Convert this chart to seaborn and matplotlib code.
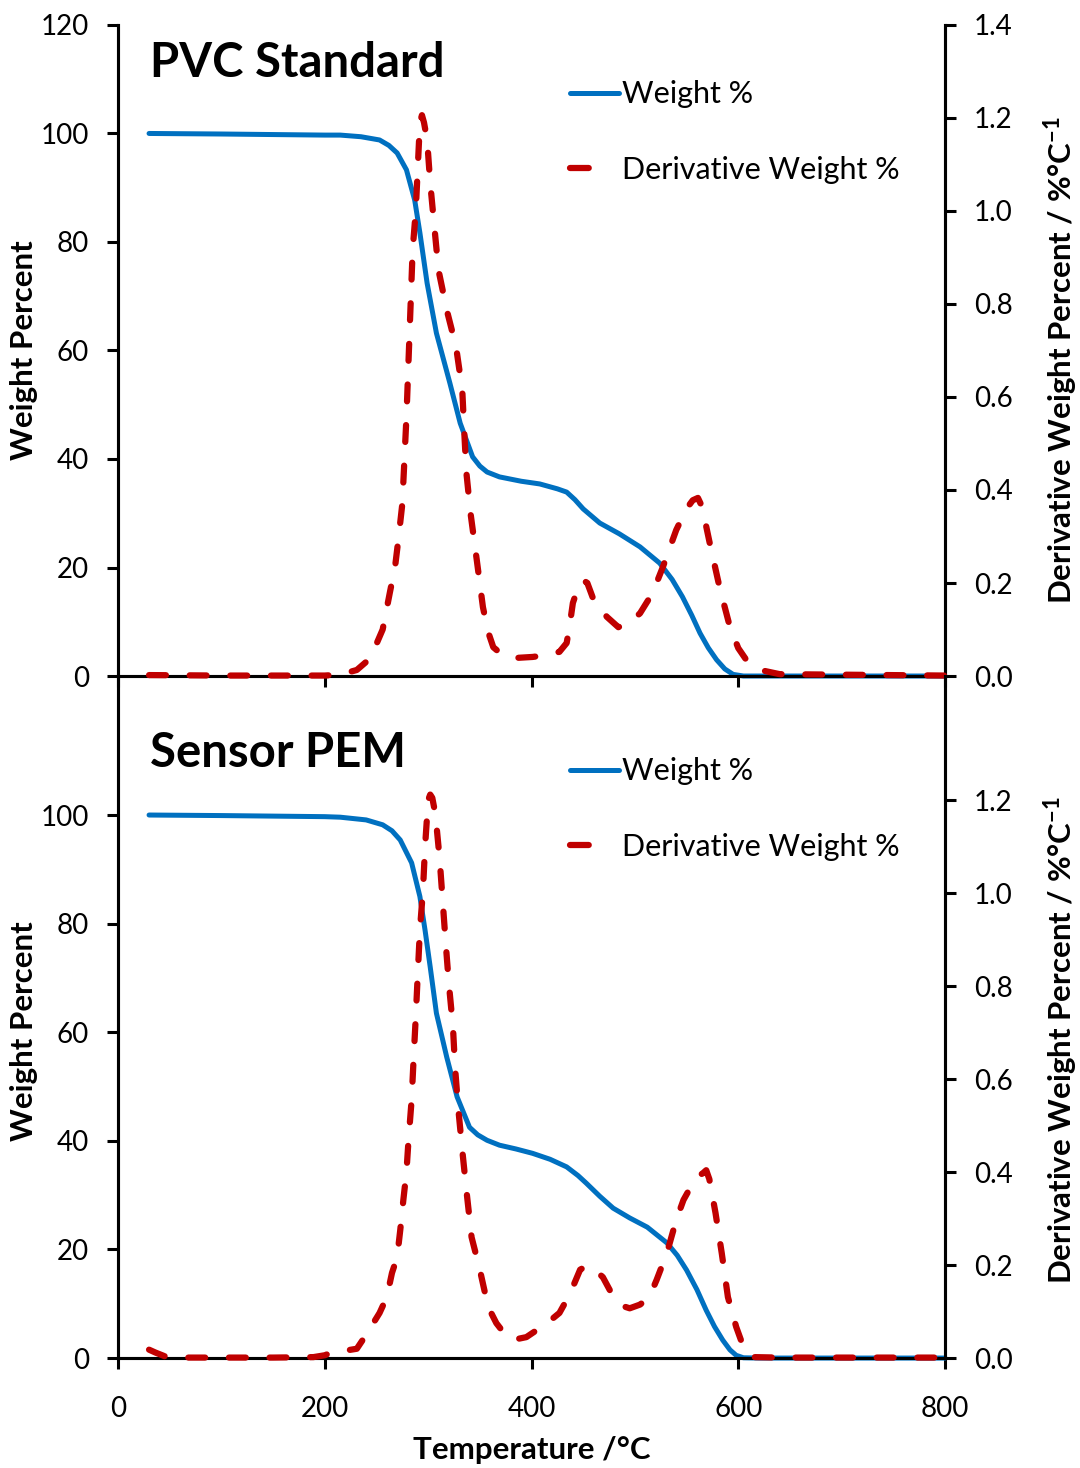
import numpy as np
import pandas as pd
import seaborn as sns
import matplotlib
matplotlib.use("Agg")
import matplotlib.pyplot as plt
from matplotlib.lines import Line2D

sns.set_theme(style="white")
plt.rcParams['font.family'] = ['Lato', 'DejaVu Sans']
plt.rcParams['mathtext.fontset'] = 'custom'
plt.rcParams['mathtext.rm'] = 'Lato'
plt.rcParams['mathtext.bf'] = 'Lato:bold'
plt.rcParams['text.color'] = 'black'
plt.rcParams['axes.labelcolor'] = 'black'
plt.rcParams['xtick.color'] = 'black'
plt.rcParams['ytick.color'] = 'black'
plt.rcParams['legend.labelcolor'] = 'black'

# ---------------- data ----------------
# PVC Standard - weight %
pvc_w_T = [30, 100, 150, 200, 215, 235, 253, 262, 270, 279, 287, 292, 299, 308, 321, 331, 343, 350, 357, 369,
           390, 408, 425, 434, 442, 450, 466, 485, 505, 524, 536, 546, 555, 563, 571, 579, 587, 595, 605, 620, 700, 800]
pvc_w = [100, 99.9, 99.8, 99.7, 99.7, 99.4, 98.8, 97.8, 96.4, 93.3, 87.7, 81.7, 72.4, 63.2, 54, 46.6, 40.4, 38.7, 37.6, 36.7,
         35.9, 35.4, 34.5, 33.9, 32.5, 30.8, 28.2, 26.2, 23.8, 20.8, 17.8, 14.6, 11.2, 7.9, 5.2, 3, 1.3, 0.3, 0, 0, 0, 0]
# PVC Standard - derivative weight %
pvc_d_T = [30, 100, 200, 215, 231, 244, 256, 263, 268, 271, 275, 279, 282, 285, 288, 290, 292, 294, 296, 299, 302, 306,
           310, 318, 327, 333, 335, 337, 341, 344, 347, 353, 358, 363, 372, 386, 401, 415, 427, 434, 437, 440, 445, 450,
           454, 459, 466, 473, 484, 495, 505, 517, 527, 540, 550, 556, 561, 565, 572, 582, 592, 600, 608, 621, 640, 800]
pvc_d = [0.002, 0.001, 0.001, 0.003, 0.013, 0.038, 0.10, 0.18, 0.235, 0.29, 0.37, 0.557, 0.737, 0.916, 1.0, 1.095, 1.19,
         1.206, 1.19, 1.153, 1.06, 0.966, 0.873, 0.787, 0.708, 0.615, 0.522, 0.437, 0.35, 0.30, 0.25, 0.148, 0.095, 0.062,
         0.045, 0.039, 0.041, 0.045, 0.052, 0.071, 0.11, 0.157, 0.19, 0.206, 0.20, 0.17, 0.145, 0.127, 0.105, 0.115, 0.135,
         0.178, 0.234, 0.314, 0.36, 0.378, 0.383, 0.364, 0.29, 0.19, 0.105, 0.06, 0.034, 0.013, 0.004, 0.001]

# Sensor PEM - weight %
pem_w_T = [30, 100, 150, 200, 215, 240, 256, 265, 273, 284, 292, 297, 302, 308, 318, 328, 340, 348, 357, 369, 385, 401,
           418, 434, 445, 453, 466, 479, 495, 512, 531, 541, 550, 560, 569, 577, 585, 592, 598, 605, 620, 700, 800]
pem_w = [100, 99.9, 99.8, 99.7, 99.6, 99.1, 98.2, 97.1, 95.4, 91.2, 85, 78.8, 72, 63.5, 55.4, 48.1, 42.5, 41.1, 40.1, 39.2,
         38.5, 37.7, 36.6, 35.2, 33.6, 32.2, 29.8, 27.6, 25.8, 24.1, 21.2, 18.9, 16.2, 12.6, 8.8, 5.8, 3.3, 1.5, 0.5, 0.05,
         0, 0, 0]
# Sensor PEM - derivative weight %
pem_d_T = [30, 36, 45, 60, 100, 150, 189, 200, 208, 220, 231, 240, 253, 260, 265, 270, 273, 276, 279, 281, 284, 286, 288,
           290, 292, 295, 297, 300, 302, 304, 307, 311, 314, 317, 320, 324, 326, 329, 333, 337, 342, 350, 358, 366, 374,
           382, 395, 405, 415, 427, 434, 440, 447, 453, 458, 463, 469, 476, 482, 488, 495, 505, 514, 521, 531, 540, 547,
           556, 562, 566, 569, 572, 574, 578, 584, 590, 598, 604, 608, 615, 640, 800]
pem_d = [0.018, 0.012, 0.004, 0.001, 0.001, 0.001, 0.002, 0.006, 0.013, 0.016, 0.02, 0.05, 0.097, 0.131, 0.183, 0.217,
         0.275, 0.34, 0.40, 0.469, 0.555, 0.647, 0.733, 0.828, 0.92, 1.006, 1.1, 1.2, 1.212, 1.205, 1.17, 1.077, 0.985,
         0.892, 0.806, 0.712, 0.626, 0.54, 0.447, 0.361, 0.26, 0.19, 0.11, 0.075, 0.052, 0.039, 0.045, 0.06, 0.075,
         0.097, 0.125, 0.153, 0.19, 0.198, 0.196, 0.186, 0.174, 0.145, 0.125, 0.112, 0.107, 0.115, 0.131, 0.168, 0.226,
         0.297, 0.34, 0.376, 0.392, 0.398, 0.404, 0.385, 0.361, 0.312, 0.226, 0.131, 0.067, 0.03, 0.011, 0.002, 0.001,
         0.001]

x_ticks = [0, 200, 400, 600, 800]
titles = ["PVC Standard", "Sensor PEM"]
legend_labels = ["Weight %", "Derivative Weight %"]

BLUE = "#0070C0"
RED = "#C00000"
BLUE_LW = 3.6
RED_LW = 4.5
RED_DASH = (0, (2.7, 3.8))

fig = plt.figure(figsize=(10.8, 14.68), dpi=100)
ax_top = fig.add_axes([0.1093, 0.5395, 0.7657, 0.4435])
ax_bot = fig.add_axes([0.1093, 0.0749, 0.7657, 0.4646])

panels = [
    (ax_top, pvc_w_T, pvc_w, pvc_d_T, pvc_d, (0, 120), [0, 20, 40, 60, 80, 100, 120],
     (0, 1.4), [0, 0.2, 0.4, 0.6, 0.8, 1.0, 1.2, 1.4], 0.941, 0.957, 0.50, 0.485),
    (ax_bot, pem_w_T, pem_w, pem_d_T, pem_d, (0, 125.6), [0, 20, 40, 60, 80, 100],
     (0, 1.467), [0, 0.2, 0.4, 0.6, 0.8, 1.0, 1.2], 0.887, 0.921, 0.48, 0.466),
]

tick_fs = 20
label_fs = 22.5
for i, (ax, wT, w, dT, d, ylim, yticks, y2lim, y2ticks, ty, ly, yl1, yl2) in enumerate(panels):
    ax2 = ax.twinx()
    dfw = pd.DataFrame({"T": wT, "W": w})
    dfd = pd.DataFrame({"T": dT, "D": d})
    sns.lineplot(data=dfw, x="T", y="W", ax=ax, color=BLUE, linewidth=BLUE_LW,
                 zorder=3, clip_on=False)
    sns.lineplot(data=dfd, x="T", y="D", ax=ax2, color=RED, linewidth=RED_LW,
                 linestyle=RED_DASH, dash_capstyle="round", zorder=3, clip_on=False)
    for a in (ax, ax2):
        a.set_xlim(0, 800)
        a.set_facecolor("none")
        for s in a.spines.values():
            s.set_linewidth(2.2)
            s.set_color("black")
        a.spines["top"].set_visible(False)
    ax.set_ylim(*ylim)
    ax.set_yticks(yticks)
    ax2.set_ylim(*y2lim)
    ax2.set_yticks(y2ticks)
    ax2.set_yticklabels([f"{v:.1f}" for v in y2ticks])
    ax.set_xticks(x_ticks)
    ax.tick_params(axis="both", direction="out", length=8, width=2.2, color="black",
                   labelcolor="black", labelsize=tick_fs, pad=13, left=True, bottom=True)
    ax2.tick_params(axis="y", direction="out", length=8, width=2.2, color="black",
                    labelcolor="black", labelsize=tick_fs, pad=13, right=True)
    ax.grid(False)
    ax2.grid(False)
    ax.set_ylabel("Weight Percent", fontsize=label_fs, fontweight="bold", color="black")
    ax2.set_ylabel("Derivative Weight Percent / %°C$^{\\mathbf{-1}}$", fontsize=label_fs,
                   fontweight="bold", color="black")
    ax.yaxis.set_label_coords(-0.097, yl1)
    ax2.yaxis.set_label_coords(1.117, yl2)
    ax.text(0.039, ty, titles[i], transform=ax.transAxes, fontsize=34,
            fontweight="bold", va="center", ha="left", color="black")
    handles = [Line2D([], [], color=BLUE, linewidth=BLUE_LW),
               Line2D([], [], color=RED, linewidth=RED_LW, linestyle=(0, (3.0, 12)),
                      dash_capstyle="round")]
    ax2.legend(handles, legend_labels, loc="upper left",
               bbox_to_anchor=(0.513, ly),
               frameon=False, fontsize=22, handlelength=1.6,
               handletextpad=0.1, labelspacing=1.55, labelcolor="black")
    if i == 0:
        ax.set_xticklabels([])
        ax.set_xlabel("")
    else:
        ax.set_xlabel("Temperature /°C", fontsize=label_fs, fontweight="bold", color="black")
        ax.xaxis.set_label_coords(0.5, -0.114)
        ax.tick_params(axis="x", pad=19)
    ax2.set_xlabel("")

fig.savefig("out.png", dpi=100)
